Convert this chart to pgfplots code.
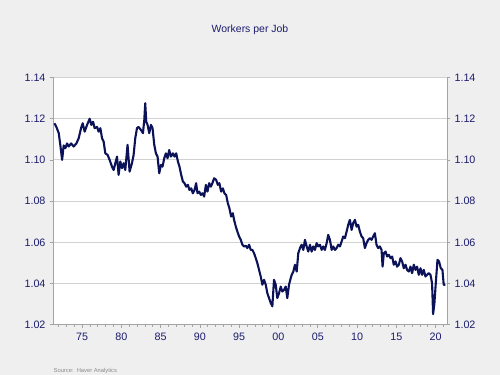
\documentclass[border=0pt]{standalone}
\usepackage{pgfplots}
\pgfplotsset{compat=1.18}
\usepackage{fontspec}
\setmainfont{Liberation Sans}
\definecolor{navyline}{HTML}{0B1258}
\definecolor{navytext}{HTML}{1C1C6E}
\definecolor{bg}{HTML}{EFEFEF}
\definecolor{gridc}{HTML}{D2D2D2}
\definecolor{axc}{HTML}{A4A4A4}
\definecolor{srcc}{HTML}{8A8A8A}
\pgfplotstableread{
x y
1971.48 1.1178
1971.73 1.1160
1972.03 1.1130
1972.24 1.1070
1972.46 1.1000
1972.66 1.1070
1972.88 1.1057
1973.09 1.1080
1973.30 1.1065
1973.60 1.1080
1973.93 1.1065
1974.28 1.1080
1974.57 1.1105
1974.87 1.1154
1975.08 1.1178
1975.33 1.1137
1975.64 1.1170
1975.97 1.1200
1976.18 1.1170
1976.40 1.1185
1976.60 1.1154
1976.91 1.1160
1977.11 1.1137
1977.33 1.1154
1977.54 1.1105
1977.74 1.1090
1977.96 1.1032
1978.25 1.1024
1978.51 1.1000
1978.81 1.0967
1979.02 1.0951
1979.23 1.0984
1979.45 1.1016
1979.65 1.0927
1979.87 1.0992
1980.08 1.0960
1980.29 1.0984
1980.50 1.0951
1980.79 1.1073
1981.05 1.0943
1981.35 1.0984
1981.56 1.1024
1981.77 1.1105
1981.99 1.1154
1982.19 1.1160
1982.50 1.1145
1982.75 1.1130
1982.92 1.1194
1983.04 1.1275
1983.17 1.1185
1983.34 1.1170
1983.55 1.1130
1983.77 1.1170
1983.97 1.1154
1984.19 1.1073
1984.40 1.1032
1984.61 1.1016
1984.82 1.0935
1985.04 1.0976
1985.24 1.0967
1985.46 1.1008
1985.67 1.1032
1985.88 1.1008
1986.09 1.1048
1986.31 1.1016
1986.56 1.1032
1986.77 1.1016
1986.98 1.1032
1987.20 1.0992
1987.40 1.0967
1987.62 1.0927
1987.83 1.0895
1988.04 1.0887
1988.25 1.0870
1988.47 1.0879
1988.67 1.0854
1988.89 1.0862
1989.10 1.0838
1989.31 1.0854
1989.52 1.0887
1989.69 1.0838
1989.90 1.0846
1990.12 1.0830
1990.32 1.0838
1990.54 1.0822
1990.76 1.0879
1990.96 1.0846
1991.18 1.0887
1991.39 1.0870
1991.59 1.0887
1991.81 1.0911
1992.07 1.0903
1992.28 1.0879
1992.48 1.0887
1992.70 1.0846
1992.92 1.0862
1993.12 1.0838
1993.34 1.0830
1993.55 1.0790
1993.75 1.0766
1993.97 1.0725
1994.19 1.0741
1994.35 1.0709
1994.57 1.0676
1994.77 1.0652
1994.99 1.0628
1995.20 1.0612
1995.41 1.0588
1995.62 1.0580
1995.84 1.0583
1996.04 1.0572
1996.26 1.0588
1996.47 1.0563
1996.68 1.0563
1996.89 1.0547
1997.11 1.0523
1997.31 1.0499
1997.53 1.0466
1997.74 1.0434
1997.95 1.0394
1998.16 1.0418
1998.38 1.0394
1998.58 1.0353
1998.80 1.0329
1999.02 1.0305
1999.22 1.0289
1999.43 1.0418
1999.65 1.0394
1999.85 1.0329
2000.07 1.0353
2000.29 1.0385
2000.49 1.0361
2000.71 1.0369
2000.92 1.0385
2001.12 1.0329
2001.34 1.0394
2001.56 1.0426
2001.68 1.0442
2001.89 1.0458
2002.10 1.0491
2002.32 1.0458
2002.52 1.0547
2002.74 1.0572
2002.95 1.0588
2003.16 1.0563
2003.37 1.0612
2003.59 1.0580
2003.79 1.0555
2004.01 1.0588
2004.22 1.0555
2004.43 1.0580
2004.64 1.0563
2004.86 1.0596
2005.06 1.0580
2005.28 1.0588
2005.50 1.0563
2005.70 1.0580
2005.91 1.0563
2006.13 1.0596
2006.33 1.0636
2006.55 1.0612
2006.77 1.0563
2006.97 1.0580
2007.19 1.0563
2007.40 1.0572
2007.61 1.0588
2007.82 1.0580
2008.04 1.0604
2008.24 1.0628
2008.46 1.0620
2008.67 1.0652
2008.88 1.0685
2009.09 1.0709
2009.31 1.0660
2009.51 1.0693
2009.73 1.0709
2009.94 1.0676
2010.15 1.0685
2010.36 1.0652
2010.58 1.0628
2010.78 1.0620
2011.00 1.0572
2011.21 1.0596
2011.42 1.0612
2011.63 1.0620
2011.85 1.0612
2012.05 1.0628
2012.27 1.0644
2012.48 1.0588
2012.69 1.0572
2012.90 1.0580
2013.12 1.0563
2013.25 1.0482
2013.41 1.0547
2013.63 1.0555
2013.83 1.0531
2014.05 1.0539
2014.26 1.0523
2014.47 1.0531
2014.68 1.0491
2014.90 1.0507
2015.10 1.0482
2015.32 1.0491
2015.53 1.0523
2015.74 1.0507
2015.95 1.0474
2016.17 1.0491
2016.37 1.0466
2016.59 1.0458
2016.80 1.0482
2017.01 1.0450
2017.22 1.0491
2017.44 1.0466
2017.64 1.0482
2017.86 1.0442
2018.08 1.0474
2018.28 1.0442
2018.49 1.0466
2018.71 1.0434
2018.91 1.0442
2019.13 1.0450
2019.35 1.0442
2019.55 1.0401
2019.68 1.0251
2019.85 1.0305
2020.02 1.0401
2020.24 1.0515
2020.44 1.0507
2020.66 1.0474
2020.87 1.0466
2021.03 1.0394
2021.25 1.0394
}\datatable
\begin{document}
\begin{tikzpicture}
\fill[bg] (0bp,0bp) rectangle (500bp,375bp);
\path[use as bounding box] (0bp,0bp) rectangle (500bp,375bp);
\node[navytext, font=\fontsize{10.5}{12}\selectfont] at (250bp,345bp) {Workers per Job};
\node[anchor=west, srcc, font=\fontsize{5.8}{7}\selectfont, inner sep=0pt] at (53.5bp,4bp) {Source:\ \ Haver Analytics};
\pgfplotsset{
  common/.style={
    at={(53bp,50.3bp)}, anchor=south west, scale only axis,
    width=394bp, height=247.2bp,
    xmin=1971.3, xmax=2021.45, ymin=1.02, ymax=1.14,
    ytick={1.02,1.04,1.06,1.08,1.10,1.12,1.14},
    tick align=outside,
    major tick length=3bp, minor tick length=2bp,
    tick style={axc, line width=0.6bp},
    axis line style={axc, line width=1bp},
    /pgf/number format/assume math mode=true,
    yticklabel style={/pgf/number format/.cd, fixed, fixed zerofill, precision=2, /tikz/.cd,
      font=\fontsize{10.8}{12}\selectfont, text=navytext},
    xticklabel style={font=\fontsize{10.8}{12}\selectfont, text=navytext, yshift=-2bp},
  }
}
\begin{axis}[common,
    axis background/.style={fill=white},
    axis x line*=bottom, axis y line*=left,
    ymajorgrids, grid style={gridc, line width=0.8bp},
    xtick={1975,1980,1985,1990,1995,2000,2005,2010,2015,2020},
    xticklabels={75,80,85,90,95,00,05,10,15,20},
    minor xtick={1972,1973,...,2021},
    yticklabel style={anchor=east, xshift=-1bp},
]
\addplot[navyline, line width=2.1bp, line join=round, no marks] table[x=x,y=y] {\datatable};
\end{axis}
\begin{axis}[common,
    axis x line=none, axis y line*=right,
    yticklabel style={anchor=west, xshift=1bp},
]
\end{axis}
\end{tikzpicture}
\end{document}
